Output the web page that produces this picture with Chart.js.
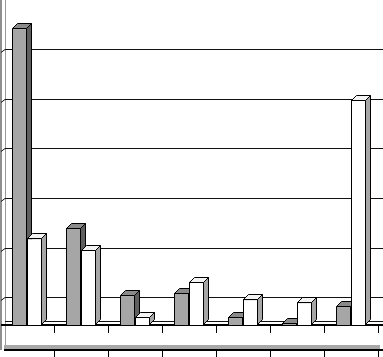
<!DOCTYPE html>
<html>
<head>
<meta charset="utf-8">
<script src="https://cdn.jsdelivr.net/npm/chart.js@4.4.1/dist/chart.umd.min.js"></script>
<style>
    html, body { margin: 0; padding: 0; background: #fff; }
    .chart-box { width: 383px; height: 357px; position: relative; }
</style>
</head>
<body>
<div class="chart-box">
    <canvas id="bars-3d"></canvas>
</div>
<script>
const categories = ["1", "2", "3", "4", "5", "6", "7"];
const grayValues = [59.8, 19.6, 6.0, 6.5, 1.6, 0.4, 3.8];
const whiteValues = [17.5, 15.1, 1.6, 8.7, 5.2, 4.6, 45.4];
const gridValues = [5.6, 15.6, 25.6, 35.6, 45.6, 55.6];
const axisMax = 65.5;

const depth = 5;

// faces for the fake 3d look, colours per dataset
const faceColors = [
    { top: "#8a8a8a", side: "#5e5e5e" },
    { top: "#f4f4f4", side: "#a6a6a6" }
];

function poly(ctx, pts, fill) {
    ctx.beginPath();
    ctx.moveTo(pts[0][0], pts[0][1]);
    for (let i = 1; i < pts.length; i++) {
        ctx.lineTo(pts[i][0], pts[i][1]);
    }
    ctx.closePath();
    ctx.fillStyle = fill;
    ctx.fill();
    ctx.stroke();
}

function drawFaces(ctx, bar, colors) {
    const p = bar.getProps(["x", "y", "base", "width"], true);
    const L = Math.round(p.x - p.width / 2) + 0.5;
    const R = Math.round(p.x + p.width / 2) - 0.5;
    const T = Math.round(p.y) + 0.5;
    const B = Math.round(p.base) - 0.5;
    poly(ctx, [[L, T], [R, T], [R + depth, T - depth], [L + depth, T - depth]], colors.top);
    poly(ctx, [[R, T], [R + depth, T - depth], [R + depth, B - depth], [R, B]], colors.side);
}

const wallsPlugin = {
    id: "walls",
    beforeDatasetsDraw(chart) {
        const ctx = chart.ctx;
        const y = chart.scales.y;
        const x = chart.scales.x;
        const W = chart.width;
        const step = x.width / categories.length;
        const floorY = y.getPixelForValue(0);

        ctx.save();

        // side wall
        ctx.lineWidth = 1.5;
        ctx.strokeStyle = "#6a6a6a";
        ctx.beginPath();
        ctx.moveTo(1, 0);
        ctx.lineTo(1, 350);
        ctx.stroke();
        ctx.lineWidth = 1;
        ctx.strokeStyle = "#9a9a9a";
        ctx.beginPath();
        ctx.moveTo(5.5, 0);
        ctx.lineTo(5.5, 348);
        ctx.stroke();

        // gridlines on the back wall
        ctx.strokeStyle = "#111";
        ctx.lineWidth = 1;
        gridValues.forEach(v => {
            const py = Math.round(y.getPixelForValue(v)) + 0.5;
            ctx.beginPath();
            ctx.moveTo(5, py);
            ctx.lineTo(W, py);
            ctx.stroke();
            ctx.beginPath();
            ctx.moveTo(1, py + 3);
            ctx.lineTo(5, py);
            ctx.stroke();
        });

        // floor back edge
        ctx.beginPath();
        ctx.moveTo(5, floorY - 3.5);
        ctx.lineTo(W, floorY - 3.5);
        ctx.stroke();

        // floor front edge
        ctx.lineWidth = 2;
        ctx.strokeStyle = "#000";
        ctx.beginPath();
        ctx.moveTo(1, floorY);
        ctx.lineTo(W, floorY);
        ctx.stroke();

        // lower band
        ctx.fillStyle = "#a8a8a8";
        ctx.fillRect(4, 345, 376, 4);
        ctx.beginPath();
        ctx.moveTo(4, 350);
        ctx.lineTo(W, 350);
        ctx.stroke();

        ctx.lineWidth = 1;
        for (let i = 0; i <= categories.length; i++) {
            const px = Math.round(x.left + i * step) + 0.5;
            if (px < 4) continue;
            ctx.beginPath();
            ctx.moveTo(px, floorY);
            ctx.lineTo(px, floorY + 8);
            ctx.stroke();
            ctx.beginPath();
            ctx.moveTo(px, 350);
            ctx.lineTo(px, 357);
            ctx.stroke();
        }
        ctx.restore();
    },
    afterDatasetsDraw(chart) {
        const ctx = chart.ctx;
        const grayBars = chart.getDatasetMeta(0).data;
        const whiteBars = chart.getDatasetMeta(1).data;
        ctx.save();
        ctx.strokeStyle = "#000";
        ctx.lineWidth = 1;
        grayBars.forEach((bar, i) => {
            drawFaces(ctx, bar, faceColors[0]);
            // white front goes over the gray side face
            whiteBars[i].draw(ctx);
            ctx.strokeStyle = "#000";
            ctx.lineWidth = 1;
            drawFaces(ctx, whiteBars[i], faceColors[1]);
        });
        ctx.restore();
    }
};

new Chart(document.getElementById("bars-3d"), {
    type: "bar",
    data: {
        labels: categories,
        datasets: [
            {
                data: grayValues,
                backgroundColor: "#a6a6a6",
                borderColor: "#000",
                borderWidth: 1
            },
            {
                data: whiteValues,
                backgroundColor: "#ffffff",
                borderColor: "#000",
                borderWidth: 1
            }
        ]
    },
    options: {
        responsive: true,
        maintainAspectRatio: false,
        animation: false,
        layout: {
            padding: { left: 0, right: 5, top: 0, bottom: 32 }
        },
        datasets: {
            bar: {
                categoryPercentage: 0.556,
                barPercentage: 1
            }
        },
        plugins: {
            legend: { display: false },
            tooltip: { enabled: false }
        },
        scales: {
            x: {
                display: false
            },
            y: {
                display: false,
                min: 0,
                max: axisMax
            }
        }
    },
    plugins: [wallsPlugin]
});
</script>
</body>
</html>
